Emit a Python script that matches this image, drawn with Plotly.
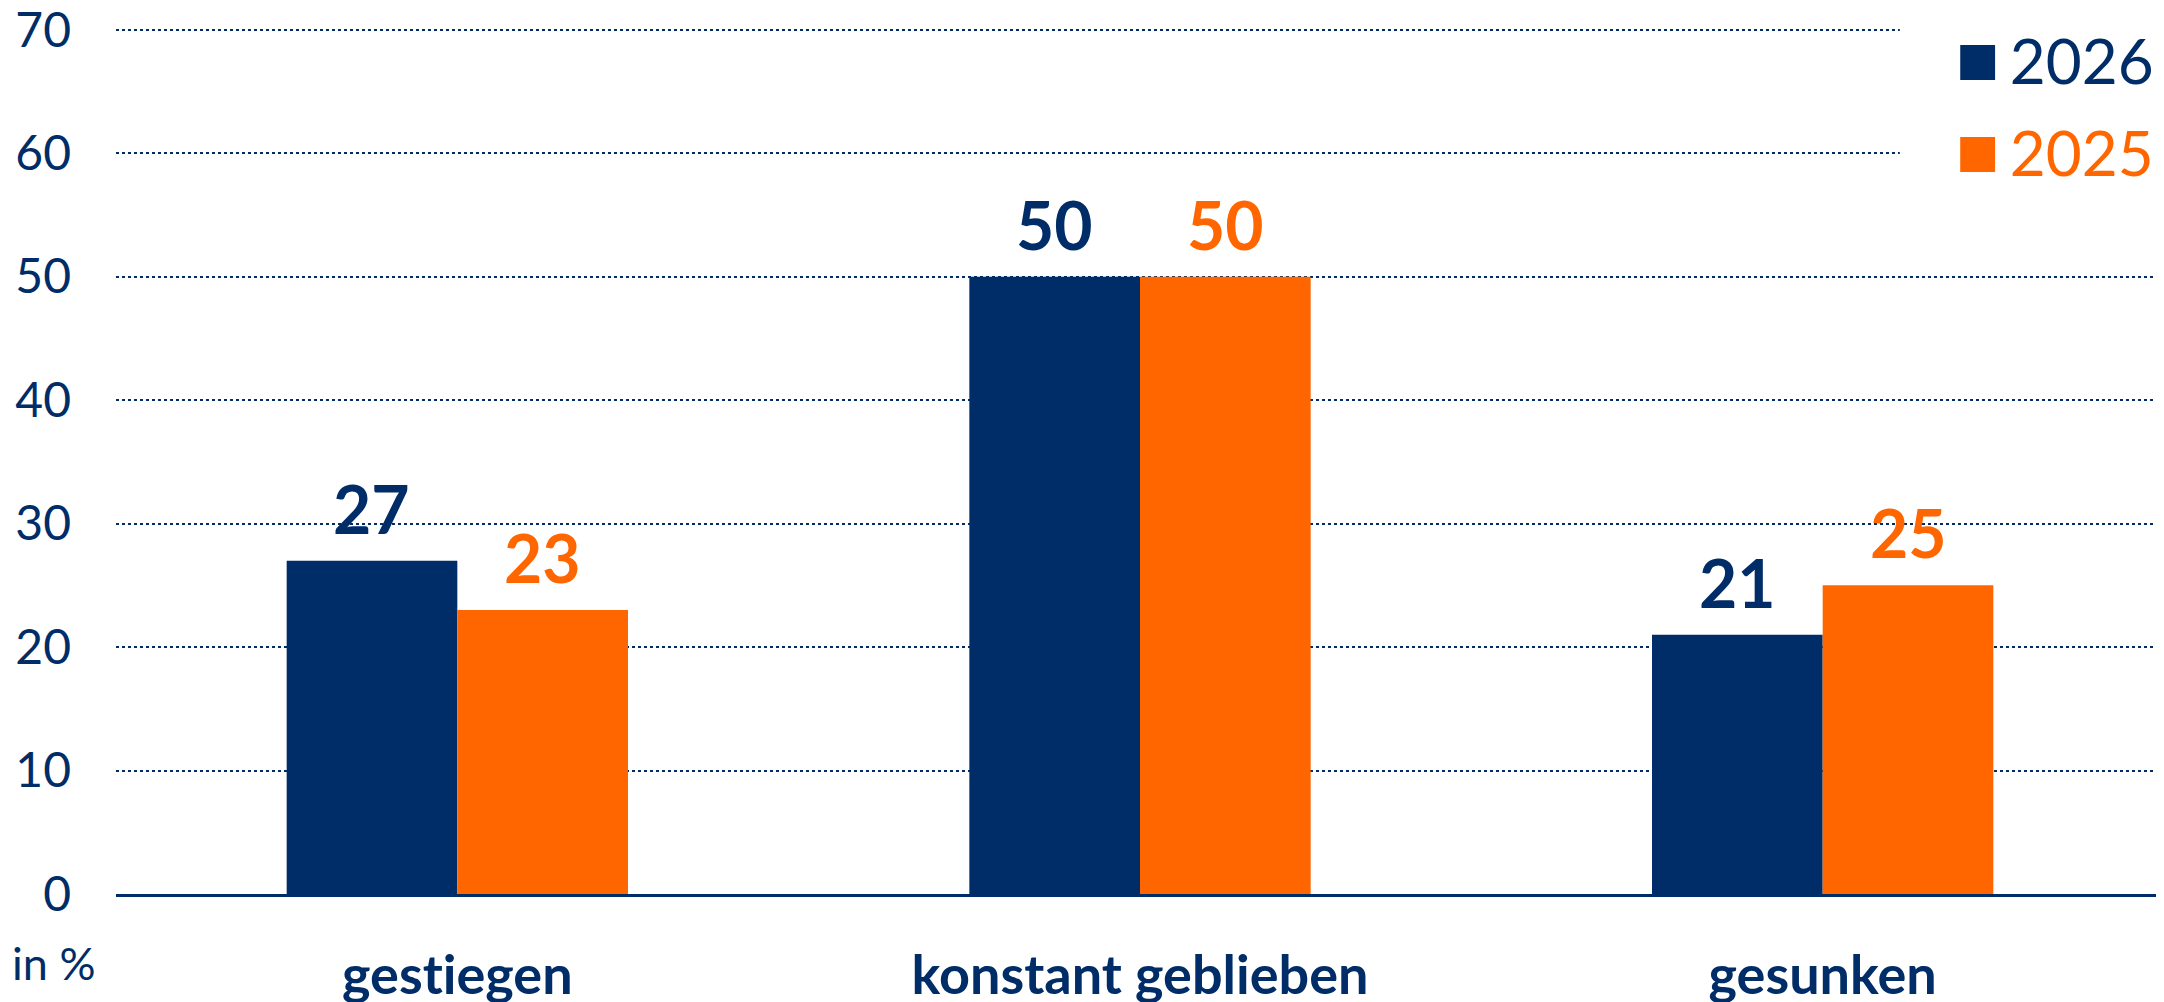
import plotly.graph_objects as go

# === DATA ===
categories = ["gestiegen", "konstant geblieben", "gesunken"]
series_names = ["2026", "2025"]
values_2026 = [27, 50, 21]
values_2025 = [23, 50, 25]
y_ticks = [0, 10, 20, 30, 40, 50, 60, 70]

NAVY = "#002D68"
ORANGE = "#FF6600"
FONT = "Lato"

fig = go.Figure()
for name, vals, col in [("2026", values_2026, NAVY), ("2025", values_2025, ORANGE)]:
    fig.add_trace(go.Bar(
        x=categories, y=vals, name=name,
        marker=dict(color=col, line=dict(width=0)),
        showlegend=False,
    ))

# value labels above bars (offset left/right of category centre)
bar_px = 171
for vals, col, sign in [(values_2026, NAVY, -1), (values_2025, ORANGE, 1)]:
    for c, v in zip(categories, vals):
        fig.add_annotation(
            x=c, y=v, text=f"<b>{v}</b>", showarrow=False,
            xshift=sign * bar_px / 2, yanchor="bottom", yshift=11,
            font=dict(family=FONT, size=66, color=col),
        )

# white patch: top gridlines stop before the legend
fig.add_shape(
    type="rect", xref="paper", yref="paper", x0=0.871, x1=1.01, y0=0.82, y1=1.05,
    fillcolor="white", line=dict(width=0), layer="above",
)

# legend drawn as annotations
for name, col, yy in [("2026", NAVY, 0.966), ("2025", ORANGE, 0.860)]:
    fig.add_annotation(
        xref="paper", yref="paper", x=1, y=yy, xanchor="right", yanchor="middle",
        text=(f"<span style='font-size:72px'>■</span>"
              f"<span style='font-size:40px'> </span>{name}"),
        showarrow=False, xshift=-8,
        font=dict(family=FONT, size=62, color=col),
    )

fig.add_annotation(
    xref="paper", yref="paper", x=-0.052, y=-0.08, xanchor="left", yanchor="middle",
    text="in %", showarrow=False,
    font=dict(family=FONT, size=45, color=NAVY),
)

# Lato ligates "ti"; a zero-width non-joiner keeps the letters apart
tick_text = [f"<b>{c.replace('ti', 't\u200ci')}</b>" for c in categories]

# page body has an 8px margin, so the figure is offset by 8px
fig.update_layout(
    width=2164, height=1002,
    margin=dict(l=108, r=8, t=18, b=116),
    paper_bgcolor="white", plot_bgcolor="white",
    barmode="group", bargap=0.5, bargroupgap=0,
    font=dict(family=FONT, color=NAVY),
)
fig.update_yaxes(
    range=[0, 70.3], tickvals=y_ticks, showgrid=True,
    gridcolor=NAVY, gridwidth=2, griddash="dot",
    zeroline=False, showline=False, automargin=False,
    tickfont=dict(family=FONT, size=48, color=NAVY),
    ticklabelstandoff=44, ticklabeloverflow="allow",
)
fig.update_xaxes(
    showline=True, linecolor=NAVY, linewidth=3, automargin=False,
    tickfont=dict(family=FONT, size=54, color=NAVY),
    tickvals=categories, ticktext=tick_text,
    ticks="", ticklabelstandoff=32, ticklabeloverflow="allow",
)

fig.write_html("out.html")
print(f"Plotly figure with {len(fig.data)} traces")
